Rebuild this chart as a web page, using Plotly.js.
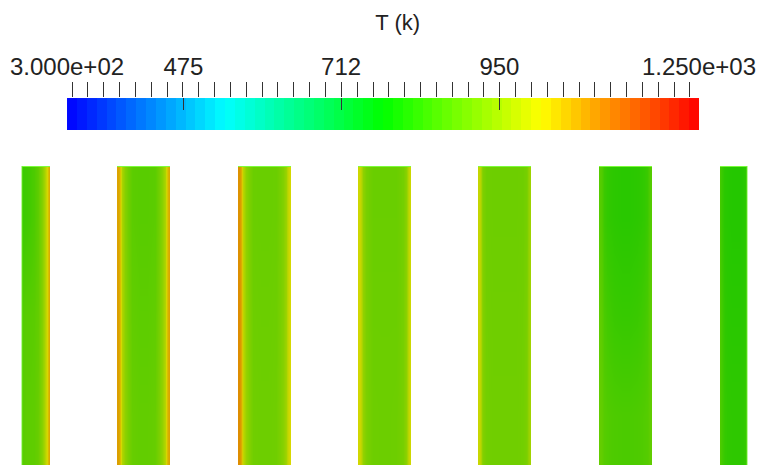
<!DOCTYPE html>
<html>
<head>
<meta charset="utf-8">
<script src="https://cdn.plot.ly/plotly-3.0.1.min.js"></script>
<style>html,body{margin:0;padding:0;background:#fff;}#chart{width:759px;height:465px;}</style>
</head>
<body>
<div id="chart"></div>
<script>
// ---- Data ----
const tMin = 300, tMax = 1250;
const tickValues = [300, 475, 712, 950, 1250];
const tickLabels = ["3.000e+02", "475", "712", "950", "1.250e+03"];
const innerTickValues = [475, 712, 950];
const minorTick0 = 307.5, minorStep = 23.82;

// bar geometry (horizontal position units = px of the view), bars run from 0 to barTop
const barLeft  = [22, 117, 238, 358, 478, 599, 720];
const barRight = [50, 170, 291, 411, 531, 652, 747];
const barTop = 300;
const rowEdges = [0, 100, 200, 300];
// relative column edges across each bar
const colEdgeFrac = [0, 0.05, 0.1, 0.2, 0.35, 0.5, 0.65, 0.8, 0.9, 0.95, 1];

// temperatures (K) per bar, bottom / middle / top level, 10 columns left->right
const tempBottom = [
  [872, 875, 878, 878, 880, 890, 925, 985, 1045, 1085],
  [1075, 1010, 930, 888, 883, 883, 888, 935, 1015, 1070],
  [1095, 1030, 940, 898, 895, 895, 898, 925, 978, 1012],
  [1005, 960, 912, 895, 894, 894, 895, 907, 952, 1002],
  [995, 930, 902, 898, 898, 898, 898, 901, 917, 952],
  [885, 875, 865, 860, 858, 858, 860, 865, 872, 882],
  [860, 848, 835, 828, 826, 826, 826, 828, 832, 838]
];
const tempMiddle = [
  [865, 870, 872, 872, 875, 885, 920, 980, 1040, 1085],
  [1075, 1010, 925, 882, 877, 877, 882, 930, 1010, 1070],
  [1095, 1030, 935, 895, 893, 893, 895, 920, 975, 1010],
  [1005, 960, 910, 893, 893, 893, 893, 905, 950, 1000],
  [995, 930, 900, 897, 897, 897, 897, 900, 915, 950],
  [880, 865, 848, 838, 835, 835, 838, 848, 862, 878],
  [860, 845, 830, 822, 820, 820, 820, 822, 825, 830]
];
const tempTop = [
  [840, 842, 845, 850, 860, 880, 920, 980, 1040, 1080],
  [1070, 1000, 920, 876, 872, 872, 876, 925, 1000, 1065],
  [1090, 1025, 930, 892, 890, 890, 892, 918, 972, 1008],
  [1000, 955, 908, 891, 891, 891, 891, 903, 948, 998],
  [990, 925, 898, 895, 895, 895, 895, 898, 912, 948],
  [870, 850, 830, 823, 820, 820, 823, 830, 848, 868],
  [850, 835, 822, 818, 815, 815, 815, 818, 822, 828]
];

// ---- Colour maps ----
const rainbow = [[0, 'rgb(0,0,255)'], [0.25, 'rgb(0,255,255)'], [0.5, 'rgb(0,255,0)'], [0.75, 'rgb(255,255,0)'], [1, 'rgb(255,0,0)']];
// lit surface version of the same map (the rendered slabs appear darker)
const rainbowLit = [[0, 'rgb(0,0,196)'], [0.25, 'rgb(0,196,196)'], [0.5, 'rgb(0,196,0)'], [0.75, 'rgb(216,216,0)'], [1, 'rgb(232,0,0)']];

const traces = [];

// field bars
for (let b = 0; b < barLeft.length; b++) {
  const w = barRight[b] - barLeft[b];
  const xs = colEdgeFrac.map(f => barLeft[b] + f * w);
  traces.push({
    type: 'heatmap', x: xs, y: rowEdges,
    z: [tempBottom[b], tempMiddle[b], tempTop[b]],
    zmin: tMin, zmax: tMax, colorscale: rainbowLit, zsmooth: 'best',
    showscale: false, hoverinfo: 'skip', xaxis: 'x', yaxis: 'y'
  });
  // bright top outline
  traces.push({
    type: 'scatter', mode: 'lines', x: [barLeft[b], barRight[b]], y: [barTop, barTop],
    line: {color: 'rgba(125,255,60,0.95)', width: 2}, hoverinfo: 'skip', showlegend: false,
    xaxis: 'x', yaxis: 'y'
  });
}
// domain boundary outlines
traces.push({
  type: 'scatter', mode: 'lines', x: [barLeft[0], barLeft[0]], y: [0, barTop],
  line: {color: 'rgba(110,240,40,0.9)', width: 1}, hoverinfo: 'skip', showlegend: false, xaxis: 'x', yaxis: 'y'
});
traces.push({
  type: 'scatter', mode: 'lines', x: [barRight[6], barRight[6]], y: [0, barTop],
  line: {color: 'rgba(110,240,40,0.9)', width: 1}, hoverinfo: 'skip', showlegend: false, xaxis: 'x', yaxis: 'y'
});

// colour legend bar (64 bands)
const nBands = 64;
const bandEdges = [], bandMid = [];
for (let i = 0; i <= nBands; i++) bandEdges.push(tMin + (tMax - tMin) * i / nBands);
for (let i = 0; i < nBands; i++) bandMid.push((bandEdges[i] + bandEdges[i + 1]) / 2);
traces.push({
  type: 'heatmap', x: bandEdges, y: [0, 1], z: [bandMid],
  zmin: tMin, zmax: tMax, colorscale: rainbow, zsmooth: false,
  showscale: false, hoverinfo: 'skip', xaxis: 'x2', yaxis: 'y2'
});
traces.push({type: 'scatter', x: [], y: [], xaxis: 'x3', yaxis: 'y2', hoverinfo: 'skip', showlegend: false});

const tickFont = {family: 'Liberation Sans, Arial, sans-serif', size: 24, color: '#222'};
const layout = {
  width: 759, height: 465,
  margin: {l: 0, r: 0, t: 0, b: 0},
  paper_bgcolor: '#fff', plot_bgcolor: 'rgba(0,0,0,0)',
  showlegend: false,
  title: {text: 'T (k)', x: 0.524, xanchor: 'center', y: 0.952, yanchor: 'middle',
          font: {family: 'Liberation Sans, Arial, sans-serif', size: 22, color: '#222'}},
  xaxis: {domain: [0, 1], range: [0, 759], visible: false, fixedrange: true},
  yaxis: {domain: [0, 0.643], range: [0, 300], visible: false, fixedrange: true},
  xaxis2: {
    domain: [0.0883, 0.9209], range: [tMin, tMax], anchor: 'y2', side: 'top',
    tickmode: 'array', tickvals: tickValues, ticktext: tickLabels,
    ticks: 'outside', ticklen: 12, tickcolor: 'rgba(0,0,0,0)', tickfont: tickFont,
    minor: {tickmode: 'linear', tick0: minorTick0, dtick: minorStep, ticks: 'outside', ticklen: 15, tickcolor: '#333', tickwidth: 1, showgrid: false},
    showgrid: false, zeroline: false, showline: false, fixedrange: true
  },
  xaxis3: {
    overlaying: 'x2', range: [tMin, tMax], anchor: 'y2', side: 'top',
    tickmode: 'array', tickvals: innerTickValues, ticks: 'inside', ticklen: 12,
    tickcolor: '#333', tickwidth: 1, showticklabels: false,
    showgrid: false, zeroline: false, showline: false, fixedrange: true
  },
  yaxis2: {domain: [0.7204, 0.7892], range: [0, 1], anchor: 'x2', visible: false, fixedrange: true}
};

Plotly.newPlot('chart', traces, layout, {staticPlot: true, displayModeBar: false});
</script>
</body>
</html>
